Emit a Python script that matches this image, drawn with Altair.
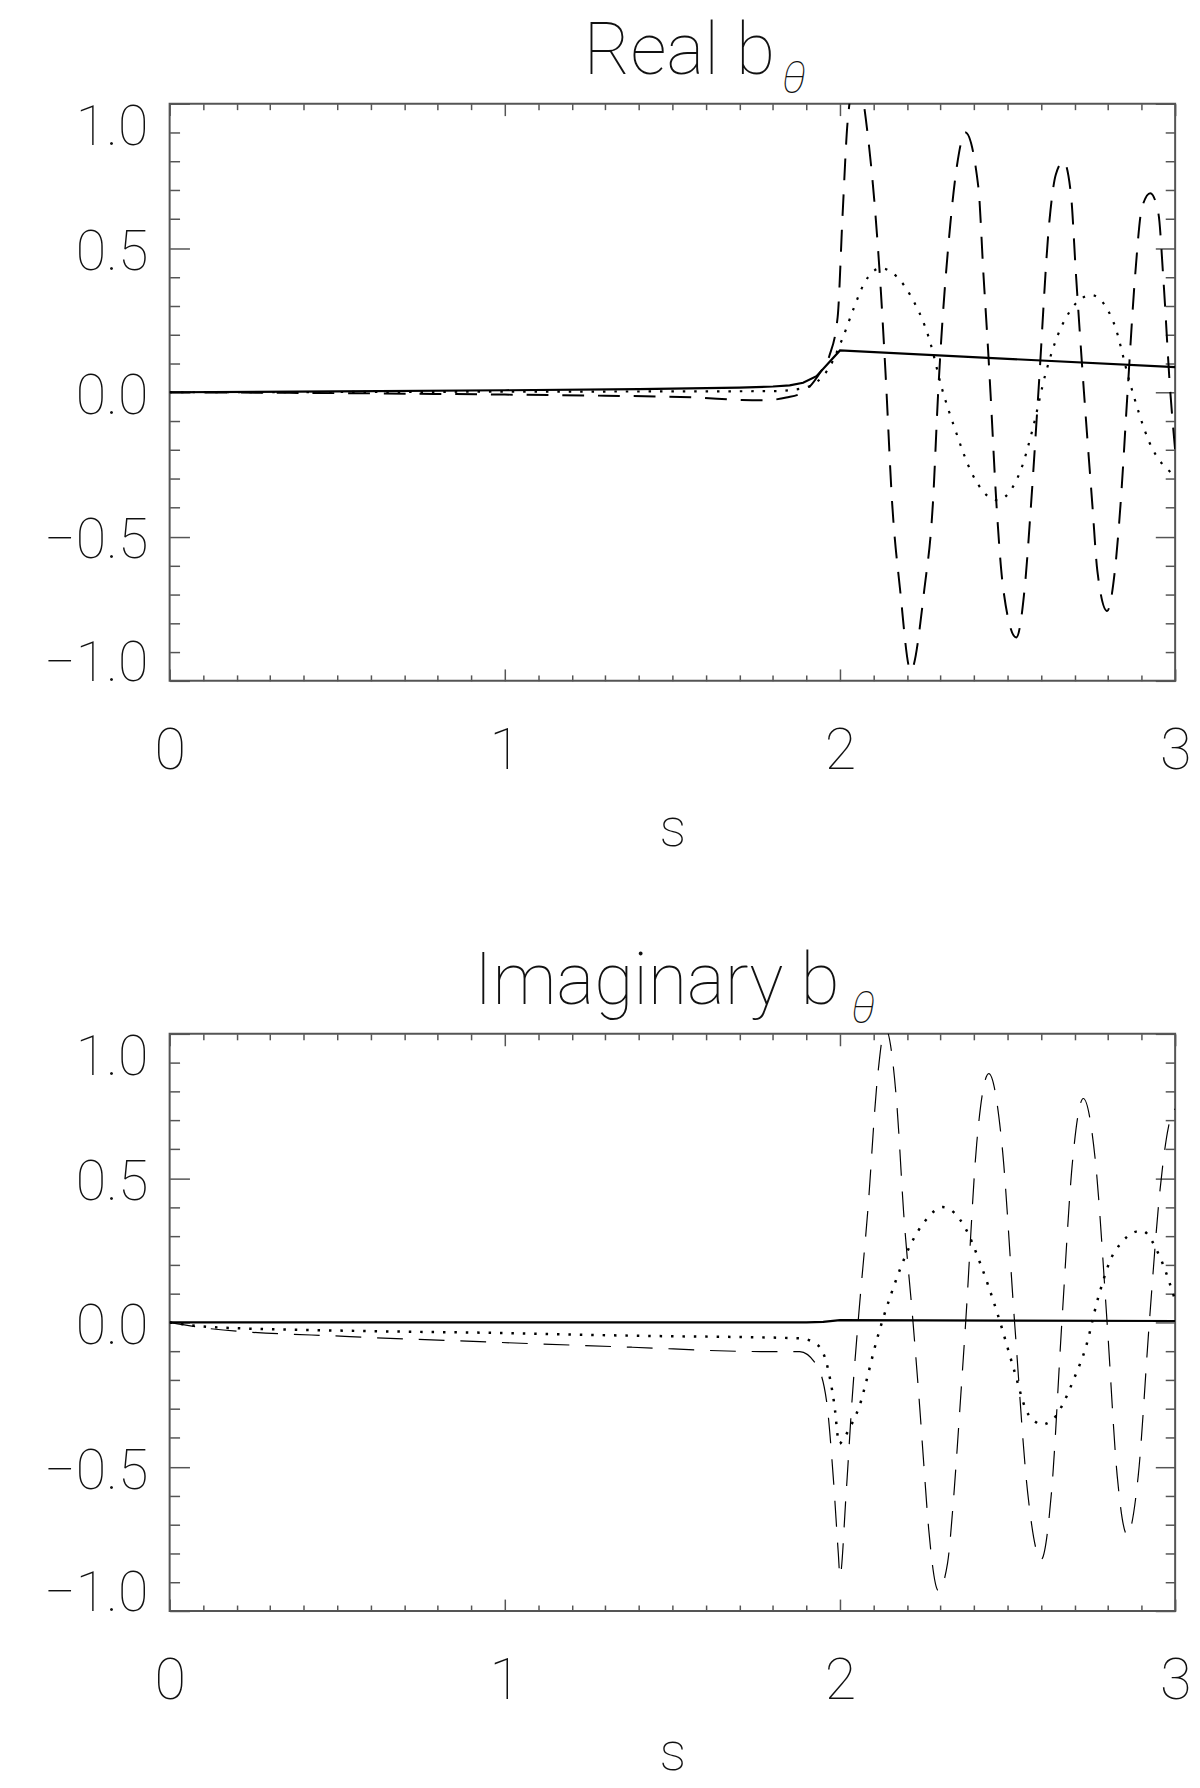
import altair as alt
import pandas as pd

# ---------------- data ----------------
# Tick values
X_MAJOR = [0, 1, 2, 3]
X_MINOR = [0.1, 0.2, 0.3, 0.4, 0.5, 0.6, 0.7, 0.8, 0.9,
           1.1, 1.2, 1.3, 1.4, 1.5, 1.6, 1.7, 1.8, 1.9,
           2.1, 2.2, 2.3, 2.4, 2.5, 2.6, 2.7, 2.8, 2.9]
Y_MAJOR = [-1.0, -0.5, 0.0, 0.5, 1.0]
Y_MINOR = [-0.9, -0.8, -0.7, -0.6, -0.4, -0.3, -0.2, -0.1,
           0.1, 0.2, 0.3, 0.4, 0.6, 0.7, 0.8, 0.9]

# Real b_theta
real_solid_s = [0, 0.5, 1.0, 1.4, 1.7, 1.8, 1.85, 1.89, 1.93, 2.0, 2.5, 3.0]
real_solid_v = [0, 0.003, 0.007, 0.011, 0.016, 0.020, 0.024, 0.033, 0.056, 0.145, 0.116, 0.087]

real_dot_s = [0, 0.5, 1.0, 1.5, 1.8, 1.88, 1.93, 1.97, 2.008, 2.043, 2.072, 2.122, 2.17,
              2.208, 2.267, 2.305, 2.343, 2.392, 2.469, 2.537, 2.575, 2.614, 2.661, 2.75,
              2.817, 2.865, 2.923, 3.0]
real_dot_v = [0, 0.001, 0.002, 0.003, 0.004, 0.012, 0.035, 0.09, 0.188, 0.297, 0.377, 0.43, 0.40,
              0.34, 0.182, 0.01, -0.127, -0.277, -0.374, -0.277, -0.127, 0.067, 0.228, 0.337,
              0.24, 0.033, -0.173, -0.29]

real_dash_s = [0, 0.5, 1.0, 1.3, 1.57, 1.707, 1.77, 1.84, 1.89, 1.94, 1.968, 1.993, 2.008, 2.023,
               2.048, 2.087, 2.102, 2.122, 2.136, 2.156, 2.179, 2.211, 2.252, 2.277, 2.293, 2.329,
               2.349, 2.374, 2.413, 2.428, 2.443, 2.449, 2.467, 2.487, 2.526, 2.551, 2.570, 2.592,
               2.625, 2.644, 2.667, 2.689, 2.704, 2.728, 2.753, 2.768, 2.797, 2.82, 2.837, 2.858,
               2.881, 2.901, 2.926, 2.95, 2.965, 2.985, 3.0]
real_dash_v = [0, -0.003, -0.008, -0.012, -0.018, -0.027, -0.028, -0.018, 0.0, 0.067, 0.125, 0.26,
               0.62, 0.94, 1.1, 0.85, 0.67, 0.35, 0.065, -0.39, -0.68, -0.965, -0.68, -0.39, 0.0,
               0.58, 0.785, 0.90, 0.71, 0.41, 0.125, 0.0, -0.39, -0.68, -0.85, -0.68, -0.39, 0.0,
               0.595, 0.755, 0.80, 0.687, 0.41, 0.0, -0.39, -0.62, -0.758, -0.62, -0.39, 0.0,
               0.41, 0.64, 0.69, 0.62, 0.39, 0.01, -0.2]

# Imaginary b_theta
imag_solid_s = [0, 1.0, 1.9, 1.95, 2.0, 2.5, 3.0]
imag_solid_v = [0, 0.0, 0.0, 0.002, 0.008, 0.006, 0.005]

imag_dot_s = [0, 0.123, 0.537, 0.954, 1.38, 1.88, 1.93, 1.96, 1.983, 1.998, 2.013, 2.036, 2.063,
              2.075, 2.11, 2.152, 2.21, 2.26, 2.306, 2.374, 2.42, 2.47, 2.52, 2.556, 2.585, 2.60,
              2.615, 2.645, 2.665, 2.70, 2.733, 2.77, 2.818, 2.9, 2.954, 3.0]
imag_dot_v = [0, -0.016, -0.029, -0.036, -0.046, -0.055, -0.075, -0.141, -0.283, -0.42, -0.398,
              -0.35, -0.272, -0.22, -0.06, 0.096, 0.268, 0.36, 0.40, 0.327, 0.20, 0.03, -0.167,
              -0.306, -0.346, -0.355, -0.351, -0.323, -0.283, -0.19, -0.088, 0.084, 0.242, 0.318,
              0.228, 0.077]

imag_dash_s = [0, 0.123, 0.537, 0.954, 1.38, 1.765, 1.88, 1.93, 1.96, 1.98, 1.995, 2.0, 2.018,
               2.036, 2.054, 2.083, 2.112, 2.135, 2.17, 2.19, 2.218, 2.238, 2.25, 2.265, 2.294,
               2.321, 2.337, 2.35, 2.358, 2.375, 2.408, 2.444, 2.483, 2.521, 2.56, 2.60, 2.631,
               2.662, 2.694, 2.726, 2.762, 2.797, 2.827, 2.857, 2.89, 2.923, 2.955, 2.98, 3.0]
imag_dash_v = [0, -0.022, -0.049, -0.068, -0.086, -0.101, -0.101, -0.148, -0.273, -0.537, -0.80,
               -0.88, -0.60, -0.27, 0.0, 0.387, 0.849, 1.02, 0.75, 0.38, 0.0, -0.295, -0.49,
               -0.72, -0.93, -0.834, -0.639, -0.432, -0.295, 0.0, 0.62, 0.862, 0.62, 0.0, -0.59,
               -0.822, -0.59, 0.0, 0.56, 0.776, 0.56, 0.0, -0.53, -0.736, -0.53, 0.0, 0.46,
               0.677, 0.74]

# ---------------- styling ----------------
FONT = "Roboto"
W, H = 1014, 582
FRAME = "#555555"
TEXT = "#111111"


def xaxis(orient, values, size, labels=False, title=None, title_pad=23):
    kw = dict(orient=orient, values=values, tickSize=size, offset=-size, labels=labels,
              domain=False, grid=False, tickColor=FRAME, tickWidth=1.5, title=title)
    if labels:
        kw.update(format="d", labelFont=FONT, labelFontSize=58, labelFontWeight=100,
                  labelColor=TEXT, labelPadding=42, labelFlush=False, labelOverlap=False)
    if title:
        kw.update(titleFont=FONT, titleFontSize=54, titleFontWeight=100, titleColor=TEXT,
                  titlePadding=title_pad)
    return alt.Axis(**kw)


def yaxis(orient, values, size, labels=False):
    kw = dict(orient=orient, values=values, tickSize=size, offset=-size, labels=labels,
              domain=False, grid=False, tickColor=FRAME, tickWidth=1.5, title=None)
    if labels:
        kw.update(format=".1f", labelFont=FONT, labelFontSize=56, labelFontWeight=100,
                  labelColor=TEXT, labelPadding=22, labelFlush=True, labelFlushOffset=7.5,
                  labelOffset=4.5, labelOverlap=False)
    return alt.Axis(**kw)


def panel(title_text, title_x, theta_x, ss, sv, ds, dv, das, dav, dot_w, dash_w, dash_pat,
          title_pad):
    xs = alt.Scale(domain=[0, 3], nice=False, zero=False)
    ys = alt.Scale(domain=[-1, 1], nice=False, zero=False)
    solid_df = pd.DataFrame({"s": ss, "v": sv})
    dot_df = pd.DataFrame({"s": ds, "v": dv})
    dash_df = pd.DataFrame({"s": das, "v": dav})

    solid = alt.Chart(solid_df).mark_line(color="black", strokeWidth=2.2, clip=True).encode(
        x=alt.X("s:Q", scale=xs,
                axis=xaxis("bottom", X_MAJOR, 12, labels=True, title="s", title_pad=title_pad)),
        y=alt.Y("v:Q", scale=ys, axis=yaxis("left", Y_MAJOR, 20, labels=True)),
    )
    dotted = alt.Chart(dot_df).mark_line(color="black", strokeWidth=dot_w, strokeDash=[2.5, 9],
                                         interpolate="monotone", clip=True).encode(
        x=alt.X("s:Q", scale=xs, axis=xaxis("bottom", X_MINOR, 6)),
        y=alt.Y("v:Q", scale=ys, axis=yaxis("left", Y_MINOR, 10)),
    )
    dashed = alt.Chart(dash_df).mark_line(color="black", strokeWidth=dash_w, strokeDash=dash_pat,
                                          interpolate="monotone", clip=True).encode(
        x=alt.X("s:Q", scale=xs, axis=xaxis("top", X_MAJOR, 12)),
        y=alt.Y("v:Q", scale=ys, axis=yaxis("right", Y_MAJOR, 20)),
    )
    ghost = alt.Chart(solid_df).mark_line(opacity=0, clip=True).encode(
        x=alt.X("s:Q", scale=xs, axis=xaxis("top", X_MINOR, 6)),
        y=alt.Y("v:Q", scale=ys, axis=yaxis("right", Y_MINOR, 10)),
    )
    title = alt.Chart(pd.DataFrame({"t": [title_text]})).mark_text(
        align="right", baseline="alphabetic", font=FONT, fontSize=72, fontWeight=100, color=TEXT
    ).encode(x=alt.value(title_x), y=alt.value(-30), text="t:N")
    theta = alt.Chart(pd.DataFrame({"t": ["θ"]})).mark_text(
        align="center", baseline="alphabetic", font=FONT, fontSize=44, fontWeight=100,
        fontStyle="italic", color=TEXT
    ).encode(x=alt.value(theta_x), y=alt.value(-11), text="t:N")

    return (
        alt.layer(solid, dotted, dashed, ghost, title, theta)
        .resolve_scale(x="shared", y="shared")
        .resolve_axis(x="independent", y="independent")
        .properties(width=W, height=H)
    )


top = panel("Real b", 610.5, 629.5, real_solid_s, real_solid_v, real_dot_s, real_dot_v,
            real_dash_s, real_dash_v, 2.2, 2.0, [22, 14], 23)
bottom = panel("Imaginary b", 675.5, 699.5, imag_solid_s, imag_solid_v, imag_dot_s, imag_dot_v,
               imag_dash_s, imag_dash_v, 2.5, 1.2, [26, 16], 17)

chart = (
    alt.vconcat(top, bottom, spacing=356, bounds="flush")
    .properties(padding={"left": 34, "top": 0, "right": 0, "bottom": 0})
    .configure_view(stroke=FRAME, strokeWidth=2)
)

chart.save("out.html", embed_options={"renderer": "svg", "actions": False})
